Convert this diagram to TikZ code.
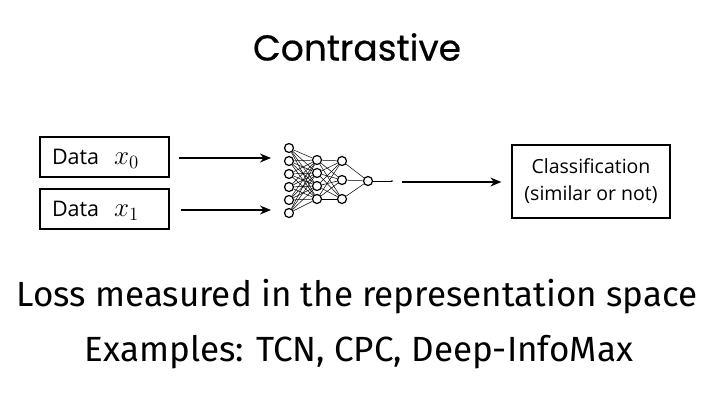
\documentclass[tikz,border=0pt]{standalone}
\usepackage{fontspec}
\setmainfont{Fira Sans}
\newfontfamily\titlefont{Poppins}[FakeBold=0.5]
\newfontfamily\boxfont{Open Sans}
\usetikzlibrary{arrows.meta,positioning}

\begin{document}
\begin{tikzpicture}[
    x=1pt, y=-1pt,
    databox/.style={rectangle, draw, line width=1.3pt, text width=105pt, inner xsep=12pt, text height=15.5pt, text depth=0pt, minimum height=40pt, align=left, font=\boxfont\fontsize{21.5}{24}\selectfont},
    classbox/.style={rectangle, draw, line width=1.3pt, minimum width=158pt, minimum height=73pt, align=center, font=\boxfont\fontsize{19.5}{27}\selectfont},
    neuron/.style={circle, draw, line width=1.2pt, inner sep=0pt, minimum size=9pt, fill=white},
    synapse/.style={line width=0.5pt},
    arrow/.style={line width=1.3pt, -{Stealth[length=11pt, width=9pt]}}
]
\useasboundingbox (0,0) rectangle (714,402);

% Title
\node[font=\titlefont\fontsize{36}{40}\selectfont] (title) at (357,47) {Contrastive};

% Inputs
\node[databox] (data0) at (104.5,157) {Data\hspace{15pt}\scalebox{1.3}{$x_0$}};
\node[databox] (data1) at (104.5,209) {Data\hspace{15pt}\scalebox{1.3}{$x_1$}};
\coordinate (netin0) at (271,158);
\coordinate (netin1) at (271,210);

% Network
\foreach \i in {1,...,6} \node[neuron] (in\i) at (289,{135+13*\i}) {};
\foreach \i/\y in {1/160,2/173,3/186,4/199} \node[neuron] (hid\i) at (317,\y) {};
\foreach \i/\y in {1/161,2/180,3/199} \node[neuron] (mid\i) at (342,\y) {};
\node[neuron] (out) at (368,181) {};
\coordinate (outend) at (392,181);
\foreach \i in {1,...,6} \foreach \j in {1,...,4} \draw[synapse] (in\i) -- (hid\j);
\foreach \i in {1,...,4} \foreach \j in {1,...,3} \draw[synapse] (hid\i) -- (mid\j);
\foreach \i in {1,...,3} \draw[synapse] (mid\i) -- (out);
\draw[synapse] (out) -- (outend);
\fill (outend) circle (0.8pt);

% Output
\node[classbox] (class) at (591,181.5) {Classification\\(similar or not)};
\coordinate (netout) at (402,182);

% Arrows
\draw[arrow, shorten <=9pt] (data0.east |- netin0) -- (netin0);
\draw[arrow, shorten <=11pt] (data1.east |- netin1) -- (netin1);
\draw[arrow, shorten >=10pt] (netout) -- (netout -| class.west);

% Caption
\node[font=\fontsize{35}{40}\selectfont] (loss) at (357,297) {Loss measured in the representation space};
\node[font=\fontsize{35}{40}\selectfont] (examples) at (359,352) {Examples: TCN, CPC, Deep-InfoMax};
\end{tikzpicture}
\end{document}
